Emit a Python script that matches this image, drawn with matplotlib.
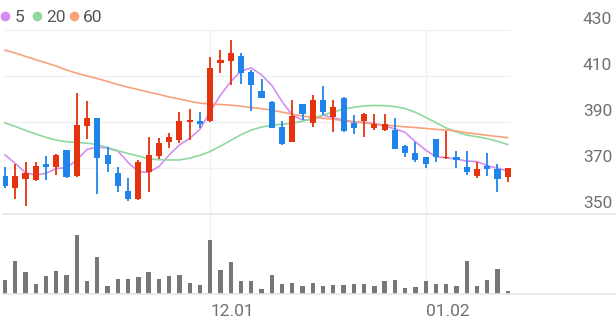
import matplotlib
matplotlib.use("Agg")
import matplotlib.pyplot as plt
import matplotlib.transforms as mtransforms
from matplotlib.lines import Line2D
import numpy as np

W, H = 616, 321

# daily candles (open, high, low, close)
opens = [366.7, 361.2, 365.2, 364.6, 371.9, 370.6, 377.7, 366.5, 388.4, 391.6,
         375.7, 367.8, 360.0, 356.5, 368.4, 375.4, 381.4, 382.2, 390.2, 390.4,
         390.4, 415.5, 416.5, 418.8, 411.9, 403.5, 398.9, 387.7, 381.4, 397.7,
         389.4, 399.6, 392.3, 400.6, 389.4, 390.4, 387.5, 386.5, 386.5, 379.6,
         376.7, 374.6, 382.5, 374.2, 374.9, 370.6, 366.5, 370.9, 369.6, 366.2]
highs = [370.6, 371.6, 372.5, 372.5, 375.4, 375.9, 377.9, 402.5, 399.3, 391.8,
         379.3, 370.6, 365.5, 373.5, 383.6, 382.9, 385.4, 394.5, 395.5, 394.5,
         418.4, 421.3, 425.7, 420.0, 412.6, 408.6, 399.0, 390.4, 399.6, 397.9,
         401.7, 405.7, 399.6, 400.8, 393.0, 393.7, 393.3, 393.6, 391.6, 379.8,
         381.4, 374.8, 382.7, 386.2, 377.5, 377.5, 372.5, 376.4, 371.7, 370.0]
lows = [361.5, 356.5, 353.6, 364.3, 364.8, 367.0, 365.5, 366.3, 382.6, 358.5,
        368.4, 359.7, 355.8, 356.3, 359.7, 373.9, 378.5, 380.7, 382.2, 387.5,
        390.2, 411.2, 406.1, 406.4, 394.8, 400.3, 387.3, 380.2, 381.2, 390.9,
        387.7, 393.0, 385.5, 385.5, 384.8, 383.6, 386.5, 386.0, 378.1, 374.9,
        372.5, 369.9, 372.8, 373.9, 369.9, 367.0, 365.8, 366.7, 359.7, 363.8]
closes = [362.2, 366.7, 368.0, 370.7, 370.6, 375.7, 366.2, 388.7, 391.7, 374.5,
          371.6, 362.3, 356.4, 372.8, 375.7, 380.7, 383.6, 390.6, 390.9, 389.1,
          413.6, 417.0, 419.9, 411.2, 406.1, 400.6, 387.5, 380.4, 392.6, 393.3,
          399.6, 394.5, 396.7, 386.2, 387.5, 393.5, 389.0, 389.2, 378.3, 376.4,
          373.5, 371.7, 374.9, 374.9, 373.5, 368.4, 369.6, 369.4, 365.2, 369.9]
volumes = [14.3, 32.6, 21.6, 10.3, 18.3, 22.6, 18.6, 59.3, 13.3, 37.0,
           8.3, 15.0, 15.0, 17.0, 21.6, 15.3, 17.6, 19.3, 11.0, 8.6,
           54.3, 24.3, 32.0, 12.6, 13.3, 5.3, 19.3, 10.0, 11.0, 8.3,
           11.0, 8.3, 9.3, 9.3, 10.0, 10.0, 8.3, 12.6, 14.3, 6.0,
           7.0, 13.0, 10.3, 9.6, 8.3, 33.3, 8.3, 14.3, 25.3, 2.6]

# moving averages as drawn
ma5 = [375.7, 372.0, 367.9, 367.0, 367.7, 369.8, 370.1, 373.5, 378.1, 379.1,
       378.6, 377.4, 372.4, 368.4, 368.1, 370.6, 375.7, 380.0, 382.9, 386.8,
       394.5, 401.7, 407.5, 412.2, 413.5, 410.5, 406.0, 398.9, 393.0, 390.9,
       390.9, 393.0, 391.8, 390.9, 389.9, 389.9, 389.4, 388.3, 387.0, 385.5,
       381.4, 377.8, 374.9, 374.5, 373.9, 373.0, 372.8, 371.0, 369.9, 368.7]
ma20 = [389.6, 388.1, 386.3, 384.8, 383.3, 382.1, 381.4, 381.1, 380.8, 380.2,
        378.9, 377.5, 376.3, 375.2, 374.0, 373.6, 373.5, 373.5, 374.3, 375.5,
        377.2, 379.5, 382.0, 384.5, 386.5, 387.8, 388.6, 389.0, 389.5, 390.3,
        391.7, 393.0, 394.4, 395.6, 396.4, 397.0, 397.2, 397.1, 396.7, 395.8,
        394.2, 392.0, 389.7, 387.4, 385.7, 384.3, 383.6, 382.8, 381.6, 380.2]
ma60 = [421.2, 420.0, 418.5, 417.1, 415.7, 414.3, 412.6, 411.2, 410.0, 408.9,
        407.6, 406.3, 405.1, 404.1, 403.0, 402.0, 400.9, 400.0, 399.0, 398.2,
        397.8, 397.6, 397.3, 396.9, 396.3, 395.8, 395.1, 394.3, 393.4, 392.6,
        392.0, 391.6, 391.2, 390.6, 390.1, 389.6, 389.1, 388.7, 388.3, 387.9,
        387.6, 387.2, 386.8, 386.5, 386.1, 385.3, 384.8, 384.2, 383.7, 383.2]

price_ticks = [350, 370, 390, 410, 430]
date_labels = {20: "12.01", 41: "01.02"}
ma_labels = ["5", "20", "60"]

UP = "#e5320f"
DOWN = "#1f84ec"
MA_COLORS = ["#d48ef0", "#8fd99e", "#f8a27c"]
GRID = "#f0f0f0"
SEP = "#e6e6e6"
TEXT = "#707070"

plt.rcParams["font.family"] = ["Roboto", "DejaVu Sans"]

fig = plt.figure(figsize=(W / 100, H / 100), dpi=100)
x0, x1 = 2.7, 511
ax = fig.add_axes([x0 / W, (H - 214) / H, (x1 - x0) / W, (214 - 30) / H])
axv = fig.add_axes([x0 / W, (H - 294) / H, (x1 - x0) / W, (294 - 214) / H])

idx = np.arange(len(closes))
o, h, l, c = map(np.array, (opens, highs, lows, closes))
up = c >= o
colors = np.where(up, UP, DOWN)

for v in price_ticks[1:]:
    ax.axhline(v, color=GRID, lw=1, zorder=0)
for i in date_labels:
    ax.axvline(i, color=GRID, lw=1, zorder=0)
    axv.axvline(i, color=GRID, lw=1, zorder=0)

for vals, col in zip((ma5, ma20, ma60), MA_COLORS):
    ax.plot(idx, vals, color=col, lw=1.2, zorder=2)

ax.vlines(idx, l, h, colors=colors, lw=1.3, zorder=3)
body_lo = np.minimum(o, c)
body_h = np.maximum(np.abs(c - o), 0.35)
ax.bar(idx, body_h, bottom=body_lo, width=0.6, color=colors, zorder=4)

xlim = ((x0 - 5) / 10.26, (x1 - 5) / 10.26)
ax.set_xlim(*xlim)
ax.set_ylim(350, 430)
ax.axis("off")

axv.bar(idx, volumes, width=0.42, color="#777777", zorder=3)
axv.set_xlim(*xlim)
axv.set_ylim(0, 80)
axv.axis("off")

# panel separators running to the right edge
for y in (214, 294):
    fig.add_artist(Line2D([x0 / W, 1], [(H - y) / H] * 2, color=SEP, lw=1.2,
                          transform=fig.transFigure))

# price labels on the right
trans = mtransforms.blended_transform_factory(fig.transFigure, ax.transData)
for v in price_ticks:
    ax.text(612 / W, v + 2.5, str(v), transform=trans, ha="right",
            va="baseline", fontsize=12.5, color=TEXT, clip_on=False)

# date labels
tx = mtransforms.blended_transform_factory(axv.transData, fig.transFigure)
for i, s in date_labels.items():
    axv.text(i + 0.05, (H - 316) / H, s, transform=tx, ha="left",
             va="baseline", fontsize=12.5, color=TEXT, clip_on=False)

# MA legend
dots_x = [5, 37, 74]
text_x = [14.5, 46, 83]
for dx, tx_, lab, col in zip(dots_x, text_x, ma_labels, MA_COLORS):
    fig.add_artist(Line2D([dx / W], [(H - 16) / H], marker="o", markersize=6,
                          color=col, transform=fig.transFigure, lw=0))
    fig.text(tx_ / W, (H - 21.7) / H, lab, ha="left", va="baseline",
             fontsize=12.5, color="#555555")

fig.savefig("out.png", dpi=100)
